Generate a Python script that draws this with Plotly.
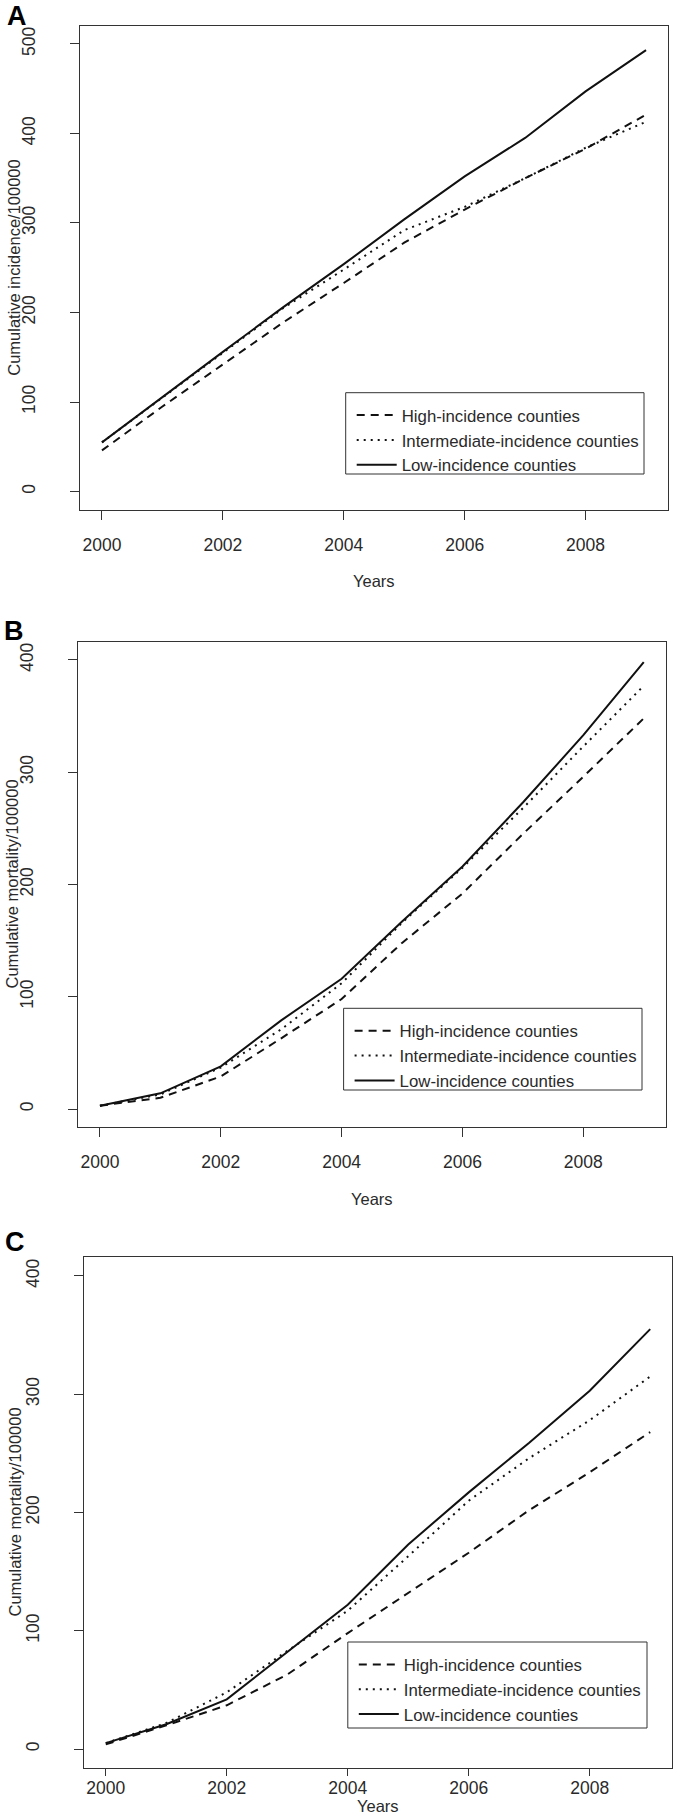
import plotly.graph_objects as go

# ---------------- data ----------------
years = [2000, 2001, 2002, 2003, 2004, 2005, 2006, 2007, 2008, 2009]
series_names = ["High-incidence counties",
                "Intermediate-incidence counties",
                "Low-incidence counties"]

# Panel A: cumulative incidence /100000
A_high = [46, 95, 142, 189, 233, 278, 315, 350, 383, 421]
A_inter = [55, 105, 155, 205, 248, 292, 318, 350, 384, 413]
A_low = [55, 106, 156, 206, 254, 304, 352, 395, 447, 493]

# Panel B: cumulative mortality /100000
B_high = [3, 10, 29, 63, 98, 148, 192, 245, 296, 348]
B_inter = [3, 13, 37, 71, 112, 166, 215, 268, 323, 377]
B_low = [3, 14, 38, 79, 116, 167, 216, 273, 333, 398]

# Panel C: cumulative mortality /100000
C_high = [4, 20, 37, 63, 98, 132, 166, 202, 234, 268]
C_inter = [5, 22, 48, 83, 117, 163, 210, 246, 278, 315]
C_low = [5, 21, 42, 82, 122, 173, 217, 259, 303, 355]

x_ticks = [2000, 2002, 2004, 2006, 2008]
A_yticks = [0, 100, 200, 300, 400, 500]
BC_yticks = [0, 100, 200, 300, 400]

# ---------------- layout helpers ----------------
W, H = 674, 1815
FONT = "Liberation Sans, Arial, Helvetica, sans-serif"
TXT = "#2a2a2a"
LINE = "#333333"
FS_TICK = 17.5
FS_LEG = 16.8
FS_TITLE = 16.5


def fx(p):
    return p / W


def fy(p):
    return 1 - p / H


panels = [
    dict(letter="A", box=(80.2, 26, 667.8, 509.5), yrange=[-20, 520],
         yticks=A_yticks, ytitle="Cumulative incidence/100000",
         data=(A_high, A_inter, A_low), leg=(345.7, 392.7, 644, 474),
         letter_pos=(17, 16), ytitle_x=14, xtitle_y=581,
         xlen=9, xstand=10),
    dict(letter="B", box=(78.2, 642, 665.5, 1127), yrange=[-16, 416],
         yticks=BC_yticks, ytitle="Cumulative mortality/100000",
         data=(B_high, B_inter, B_low), leg=(343.6, 1008.3, 642, 1090),
         letter_pos=(14, 631), ytitle_x=12, xtitle_y=1199,
         xlen=9, xstand=10),
    dict(letter="C", box=(84, 1257, 672, 1768), yrange=[-16, 416],
         yticks=BC_yticks, ytitle="Cumulative mortality/100000",
         data=(C_high, C_inter, C_low), leg=(347.8, 1642, 647, 1728),
         letter_pos=(15, 1242), ytitle_x=14, xtitle_y=1806,
         xlen=7, xstand=-3),
]

dashes = ["8px,6px", "2px,5px", "solid"]

fig = go.Figure()
layout = dict(
    width=W, height=H,
    margin=dict(l=0, r=0, t=0, b=0),
    paper_bgcolor="white", plot_bgcolor="white",
    font=dict(family=FONT, size=FS_TICK, color=TXT),
    showlegend=True,
)
shapes = []
annotations = []

for i, p in enumerate(panels):
    n = "" if i == 0 else str(i + 1)
    xa, ya = "x" + n, "y" + n
    leg = "legend" + n
    x0, y0, x1, y1 = p["box"]
    for vals, name, dash in zip(p["data"], series_names, dashes):
        fig.add_trace(go.Scatter(
            x=years, y=vals, name=name, mode="lines",
            line=dict(color="#111111", width=2, dash=dash),
            xaxis=xa, yaxis=ya, legend=leg, hoverinfo="skip",
        ))
    layout["xaxis" + n] = dict(
        domain=[fx(x0), fx(x1)], range=[1999.64, 2009.36], anchor=ya,
        tickmode="array", tickvals=x_ticks, ticks="outside",
        ticklen=p["xlen"], tickcolor=LINE, tickwidth=1, showline=True,
        mirror=True, linecolor=LINE, linewidth=1, showgrid=False,
        zeroline=False, tickfont=dict(size=FS_TICK, color=TXT),
        ticklabelstandoff=p["xstand"],
    )
    layout["yaxis" + n] = dict(
        domain=[fy(y1), fy(y0)], range=p["yrange"], anchor=xa,
        tickmode="array", tickvals=p["yticks"], ticks="outside", ticklen=9,
        tickcolor=LINE, tickwidth=1, showline=True, mirror=True,
        linecolor=LINE, linewidth=1, showgrid=False, zeroline=False,
        tickangle=-90, tickfont=dict(size=FS_TICK, color=TXT),
        ticklabelstandoff=28,
    )
    lx0, ly0, lx1, ly1 = p["leg"]
    shapes.append(dict(type="rect", xref="paper", yref="paper",
                       x0=fx(lx0), x1=fx(lx1), y0=fy(ly1), y1=fy(ly0),
                       line=dict(color=LINE, width=1), fillcolor="white",
                       layer="below"))
    layout[leg] = dict(
        x=fx(lx0 + 6), y=fy(ly0 + 5), xanchor="left", yanchor="top",
        bgcolor="rgba(0,0,0,0)", borderwidth=0,
        font=dict(family=FONT, size=FS_LEG, color=TXT),
        itemwidth=40, tracegroupgap=0,
    )
    annotations.append(dict(
        text="<b>%s</b>" % p["letter"], xref="paper", yref="paper",
        x=fx(p["letter_pos"][0]), y=fy(p["letter_pos"][1]),
        xanchor="center", yanchor="middle", showarrow=False,
        font=dict(family=FONT, size=27, color="#000000")))
    annotations.append(dict(
        text=p["ytitle"], xref="paper", yref="paper", textangle=-90,
        x=fx(p["ytitle_x"]), y=fy((y0 + y1) / 2),
        xanchor="center", yanchor="middle", showarrow=False,
        font=dict(family=FONT, size=FS_TITLE, color=TXT)))
    annotations.append(dict(
        text="Years", xref="paper", yref="paper",
        x=fx((x0 + x1) / 2), y=fy(p["xtitle_y"]),
        xanchor="center", yanchor="middle", showarrow=False,
        font=dict(family=FONT, size=FS_TITLE, color=TXT)))

layout["shapes"] = shapes
layout["annotations"] = annotations
fig.update_layout(**layout)

fig.write_html("out.html", config={"displayModeBar": False},
               post_script="document.body.style.margin='0';")
